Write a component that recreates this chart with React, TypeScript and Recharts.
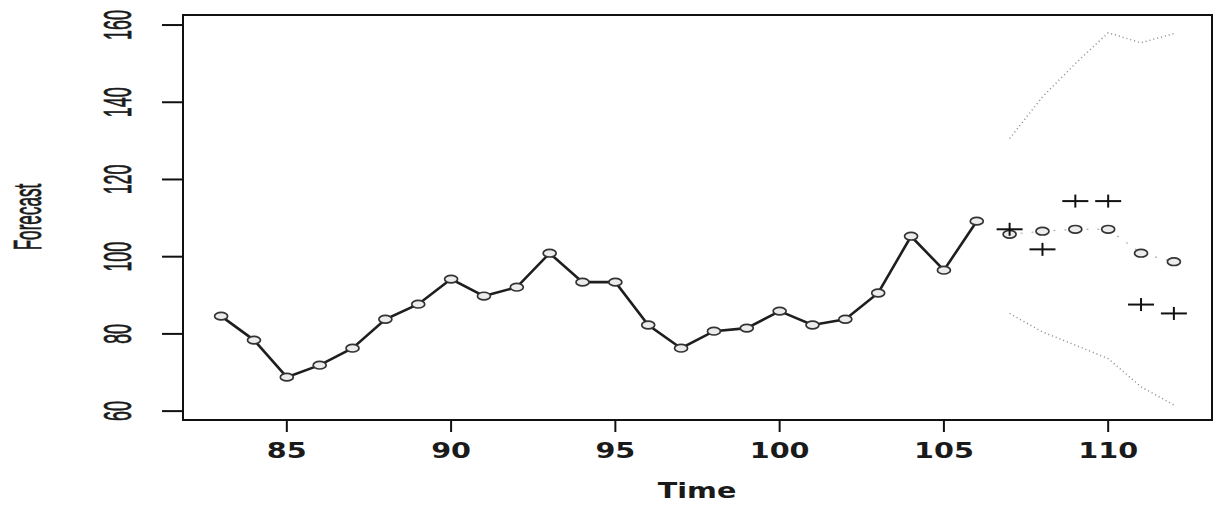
import React from "react";
import { ComposedChart, Line, XAxis, YAxis, ReferenceArea } from "recharts";

if (typeof document !== "undefined") document.body.style.margin = "0";

// observed series
const histTime = [83, 84, 85, 86, 87, 88, 89, 90, 91, 92, 93, 94, 95, 96, 97, 98, 99, 100, 101, 102, 103, 104, 105, 106];
const histValue = [84.6, 78.4, 68.8, 71.9, 76.3, 83.8, 87.7, 94.2, 89.8, 92.1, 100.9, 93.4, 93.4, 82.3, 76.3, 80.7, 81.5, 85.9, 82.3, 83.8, 90.6, 105.3, 96.5, 109.2];

// forecast horizon
const fcTime = [107, 108, 109, 110, 111, 112];
const fcMean = [105.8, 106.6, 107.1, 107.1, 100.9, 98.7];
const fcUpper = [130.6, 141.4, 150.0, 158.0, 155.4, 157.8];
const fcLower = [85.3, 80.5, 77.1, 73.6, 66.3, 61.6];
const actual = [107.1, 101.9, 114.4, 114.4, 87.6, 85.3];

const xTicks = [85, 90, 95, 100, 105, 110];
const yTicks = [60, 80, 100, 120, 140, 160];
const xDomain: [number, number] = [81.84, 113.16];
const yDomain: [number, number] = [57.7, 162.6];

const histData = histTime.map((t, i) => ({ t, v: histValue[i] }));
const meanData = fcTime.map((t, i) => ({ t, v: fcMean[i] }));
const upperData = fcTime.map((t, i) => ({ t, v: fcUpper[i] }));
const lowerData = fcTime.map((t, i) => ({ t, v: fcLower[i] }));
const actualData = fcTime.map((t, i) => ({ t, v: actual[i] }));

const ovalDot = (props: any) => {
  const { cx, cy, index } = props;
  if (cx == null || cy == null) return <g key={`o-${index}`} />;
  return (
    <ellipse key={`o-${index}`} cx={cx} cy={cy} rx={6.5} ry={3.8} fill="#ececec" stroke="#333" strokeWidth={1.7} />
  );
};

const plusDot = (props: any) => {
  const { cx, cy, index } = props;
  if (cx == null || cy == null) return <g key={`p-${index}`} />;
  return (
    <g key={`p-${index}`} stroke="#111" strokeWidth={2}>
      <line x1={cx - 13} y1={cy} x2={cx + 13} y2={cy} />
      <line x1={cx} y1={cy - 6.5} x2={cx} y2={cy + 6.5} />
    </g>
  );
};

const XTick = (props: any) => {
  const { x, payload } = props;
  return (
    <text
      transform={`translate(${x},451) scale(1.4,1)`}
      textAnchor="middle"
      dominantBaseline="central"
      fontFamily="DejaVu Sans"
      fontWeight="bold"
      fontSize={20.5}
      fill="#1a1a1a"
    >
      {payload.value}
    </text>
  );
};

const YTick = (props: any) => {
  const { y, payload } = props;
  return (
    <text
      transform={`translate(118,${y}) rotate(-90) scale(0.47,1)`}
      textAnchor="middle"
      dominantBaseline="central"
      fontFamily="Liberation Sans, Arial"
      fontSize={38}
      fill="#1a1a1a"
      stroke="#1a1a1a"
      strokeWidth={0.8}
    >
      {payload.value}
    </text>
  );
};

export default function App() {
  return (
    <div style={{ width: 1217, height: 508, background: "#fff" }}>
      <ComposedChart width={1217} height={508} margin={{ top: 15, right: 5, bottom: 0, left: 0 }}>
        <XAxis
          type="number"
          dataKey="t"
          domain={xDomain}
          ticks={xTicks}
          allowDataOverflow
          height={88}
          tickSize={12}
          tick={XTick}
          axisLine={false}
          tickLine={{ stroke: "#111", strokeWidth: 2 }}
          label={{
            content: () => (
              <text
                transform="translate(697,491) scale(1.4,1)"
                textAnchor="middle"
                dominantBaseline="central"
                fontFamily="DejaVu Sans"
                fontWeight="bold"
                fontSize={20.5}
                fill="#1a1a1a"
              >
                Time
              </text>
            ),
          }}
        />
        <YAxis
          type="number"
          dataKey="v"
          domain={yDomain}
          ticks={yTicks}
          allowDataOverflow
          width={183}
          tickSize={21}
          tick={YTick}
          axisLine={false}
          tickLine={{ stroke: "#111", strokeWidth: 2 }}
          label={{
            content: () => (
              <text
                transform="translate(27,217) rotate(-90) scale(0.44,1)"
                textAnchor="middle"
                dominantBaseline="central"
                fontFamily="Liberation Sans, Arial"
                fontSize={39}
                fill="#1a1a1a"
                stroke="#1a1a1a"
                strokeWidth={0.8}
              >
                Forecast
              </text>
            ),
          }}
        />
        <ReferenceArea
          x1={xDomain[0]}
          x2={xDomain[1]}
          y1={yDomain[0]}
          y2={yDomain[1]}
          fill="none"
          stroke="#111"
          strokeWidth={2}
          ifOverflow="visible"
        />
        <Line
          data={upperData}
          dataKey="v"
          type="linear"
          stroke="#8a8a8a"
          strokeWidth={1.5}
          strokeDasharray="1 3"
          dot={false}
          isAnimationActive={false}
        />
        <Line
          data={lowerData}
          dataKey="v"
          type="linear"
          stroke="#8a8a8a"
          strokeWidth={1.5}
          strokeDasharray="1 3"
          dot={false}
          isAnimationActive={false}
        />
        <Line
          data={histData}
          dataKey="v"
          type="linear"
          stroke="#1e1e1e"
          strokeWidth={2.6}
          dot={ovalDot}
          isAnimationActive={false}
        />
        <Line
          data={meanData}
          dataKey="v"
          type="linear"
          stroke="#b0b0b0"
          strokeWidth={1.2}
          strokeDasharray="2 9"
          dot={ovalDot}
          isAnimationActive={false}
        />
        <Line
          data={actualData}
          dataKey="v"
          type="linear"
          stroke="none"
          dot={plusDot}
          isAnimationActive={false}
        />
      </ComposedChart>
    </div>
  );
}
